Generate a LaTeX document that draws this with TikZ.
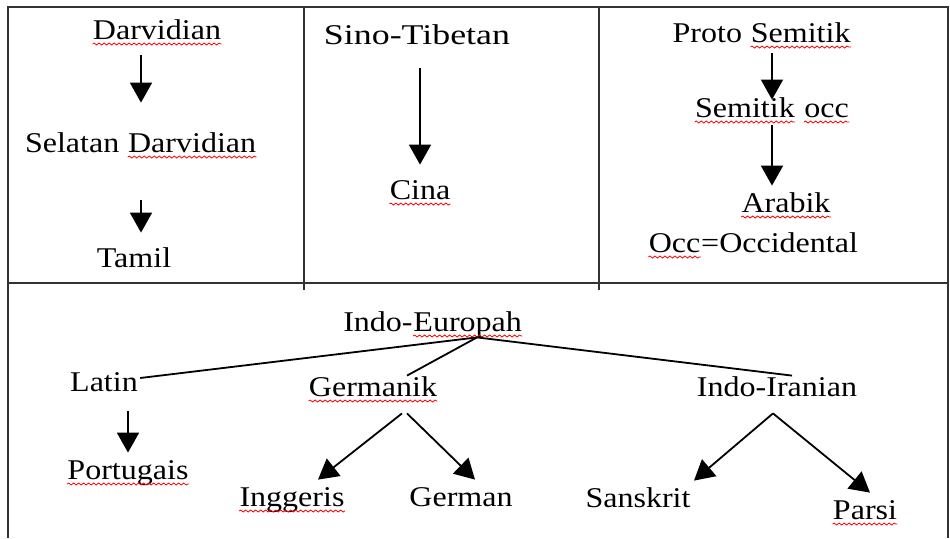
\documentclass[tikz,border=0pt]{standalone}
\usepackage{fontspec}
\setmainfont{Liberation Serif}[FakeStretch=1.12]
\usetikzlibrary{arrows.meta,decorations.pathmorphing}
\newcommand\sq[1]{\tikz[baseline=(w.base)]{\node[inner sep=0pt] (w) {#1};
  \draw[red, line width=0.4pt, decorate, decoration={snake, amplitude=0.5pt, segment length=2.5pt}]
    ([yshift=-2.5pt]w.base west) -- ([yshift=-2.5pt]w.base east);}}

\begin{document}
\begin{tikzpicture}[x=0.5pt, y=-0.5pt,
  lang/.style={inner sep=1pt, text height=12pt, text depth=3pt, font=\fontsize{14.3}{17}\selectfont},
  arr/.style={line width=0.9pt, -{Triangle[length=10pt, width=11pt]}},
  link/.style={line width=0.9pt},
  frame/.style={line width=1.2pt, black!80}]
\useasboundingbox (0,0) rectangle (950,538);

\draw[frame] (8,538) -- (8,7) -- (948,7) -- (948,538);
\draw[frame] (8,283) -- (948,283);
\foreach \x in {304,599}{
  \draw[frame] (\x,7) -- (\x,290);
}

\node[lang] (darv) at (157,30) {\sq{Darvidian}};
\node[lang] (sel) at (141,143) {Selatan \sq{Darvidian}};
\node[lang] (tamil) at (134,258) {Tamil};
\node[lang] (sino) at (417,35) {\scalebox{1.12}[1]{Sino-Tibetan}};
\node[lang] (cina) at (420,190) {\sq{Cina}};
\node[lang] (proto) at (762,33) {Proto \sq{Semitik}};
\node[lang] (semocc) at (772,108) {\sq{Semitik} \sq{occ}};
\node[lang] (arabik) at (786,203) {\sq{Arabik}};
\node[lang] (occ) at (753,243) {\sq{Occ}=Occidental};

\node[lang] (ie) at (433,322) {Indo-\sq{Europah}};
\node[lang] (latin) at (104,382) {Latin};
\node[lang] (germ) at (373,387) {\sq{Germanik}};
\node[lang] (indoir) at (777,387) {Indo-Iranian};
\node[lang] (port) at (128,470) {\sq{Portugais}};
\node[lang] (ingg) at (292,497) {\sq{Inggeris}};
\node[lang] (german) at (461,497) {German};
\node[lang] (sansk) at (638,498) {Sanskrit};
\node[lang] (parsi) at (865,510) {\sq{Parsi}};

\draw[arr, shorten <=4pt, shorten >=11.5pt] (darv.south -| sel) -- (sel.north);
\draw[arr, shorten <=20pt, shorten >=4pt] (sel.south) -- (sel.south |- tamil.north);
\draw[arr, shorten <=8pt, shorten >=4pt] (sino.south -| cina) -- (cina.north);
\draw[arr, shorten <=1.5pt, shorten >=-4.5pt] (proto.south -| semocc) -- (semocc.north);
\draw[arr] (semocc.south) -- (semocc.south |- arabik.north);
\draw[arr, shorten <=6pt] (latin.south -| port) -- (port.north);

\draw[link] ([xshift=22pt,yshift=1pt]ie.south) -- ([yshift=2pt]latin.east);
\draw[link] ([xshift=22pt,yshift=1pt]ie.south) -- ([xshift=17pt,yshift=-3pt]germ.north);
\draw[link] ([xshift=22pt,yshift=1pt]ie.south) -- ([xshift=7.5pt,yshift=-3pt]indoir.north);

\draw[arr] ([xshift=14.5pt,yshift=-4.5pt]germ.south) -- ([xshift=13pt]ingg.north);
\draw[arr] ([xshift=17pt,yshift=-4.5pt]germ.south) -- ([xshift=7pt]german.north);
\draw[arr] ([xshift=-2pt,yshift=-4.5pt]indoir.south) -- ([xshift=28pt]sansk.north);
\draw[arr] ([xshift=-2pt,yshift=-4.5pt]indoir.south) -- ([xshift=2.5pt]parsi.north);

\end{tikzpicture}
\end{document}
